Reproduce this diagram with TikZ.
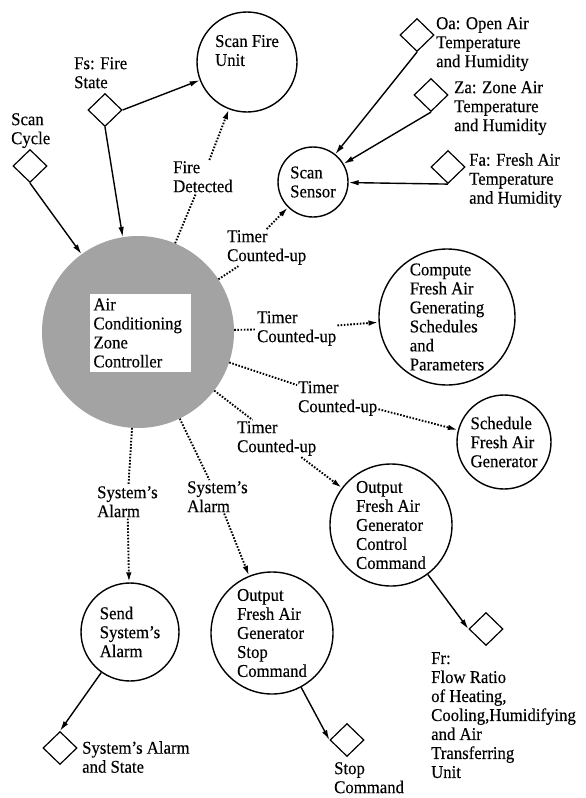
\documentclass[tikz,border=0pt]{standalone}
\usepackage{fontspec}
\setmainfont{Liberation Serif}[FakeStretch=0.93,FakeBold=0.3]
\usetikzlibrary{arrows.meta,shapes.geometric}
\begin{document}
\begin{tikzpicture}[x=1pt,y=-1pt,
  every node/.style={font=\fontsize{18}{19}\selectfont},
  proc/.style={circle,draw,line width=1.4pt,align=left,inner sep=0pt},
  store/.style={diamond,draw,line width=1.2pt,minimum width=34pt,minimum height=33pt,inner sep=0pt},
  lbl/.style={align=left,inner sep=1pt,anchor=north west},
  flow/.style={line width=1.4pt,-{Latex[length=10pt,width=5.5pt]}},
  ctrlseg/.style={line width=1.9pt,dash pattern=on 1.6pt off 1.6pt},
  ctrl/.style={ctrlseg,-{Latex[length=10pt,width=5.5pt]}}
]
\useasboundingbox (0,0) rectangle (586,798);

% central controller
\node[circle,fill=black!36,minimum size=192pt,inner sep=0pt] (main) at (138,332) {};
\node[fill=white,align=left,inner sep=4pt,minimum width=101pt,minimum height=75pt,text width=93pt] (maintxt) at (140,333)
  {Air\\Conditioning\\Zone\\Controller};

% processes
\node[proc,minimum size=100pt] (sfu) at (247,62) {Scan Fire\\Unit\\[4pt]};
\node[proc,minimum size=70pt] (ss) at (313,182) {Scan\\Sensor};
\node[proc,minimum size=136pt] (comp) at (447,317) {Compute\\Fresh Air\\Generating\\Schedules\\and\\Parameters};
\node[proc,minimum size=94pt] (sched) at (504,442) {Schedule\\Fresh Air\\Generator};
\node[proc,minimum size=122pt] (occ) at (391,525) {Output\\Fresh Air\\Generator\\Control\\Command};
\node[proc,minimum size=98pt] (send) at (130,632) {Send\\System's\\Alarm};
\node[proc,minimum size=122pt] (stop) at (272,633) {Output\\Fresh Air\\Generator\\Stop\\Command};

% data stores
\node[store] (fs) at (105,110) {};
\node[store] (sc) at (30,166) {};
\node[store] (oa) at (417,35) {};
\node[store] (za) at (431,95) {};
\node[store] (fa) at (448,167) {};
\node[store] (fr) at (486,629) {};
\node[store] (sas) at (60,748) {};
\node[store] (sd) at (347,740) {};

% store labels
\node[lbl] (fslbl) at (73,56) {Fs: Fire\\State};
\node[lbl] (sclbl) at (10,112) {Scan\\Cycle};
\node[lbl] (oalbl) at (435,16) {Oa: Open Air\\Temperature\\and Humidity};
\node[lbl] (zalbl) at (453,80) {Za: Zone Air\\Temperature\\and Humidity};
\node[lbl] (falbl) at (468,152) {Fa: Fresh Air\\Temperature\\and Humidity};
\node[lbl] (frlbl) at (430,651) {Fr:\\Flow Ratio\\of Heating,\\Cooling,Humidifying\\and Air\\Transferring\\Unit};
\node[lbl] (saslbl) at (81,740) {System's Alarm\\and State};
\node[lbl] (sdlbl) at (333,761) {Stop\\Command};

% control flow labels
\node[lbl] (fd) at (172,160) {Fire\\Detected};
\node[lbl] (t1) at (226,229) {Timer\\Counted-up};
\node[lbl] (t2) at (256,310) {Timer\\Counted-up};
\node[lbl] (t3) at (297,380) {Timer\\Counted-up};
\node[lbl] (t4) at (236,420) {Timer\\Counted-up};
\node[lbl] (sa1) at (96,485) {System's\\Alarm};
\node[lbl] (sa2) at (186,480) {System's\\Alarm};

% data flows
\draw[flow] (sc.south) -- (main);
\draw[flow] (fs.south) -- (main);
\draw[flow] (fs.east) -- (sfu);
\draw[flow] (oa.south) -- (ss);
\draw[flow] (za.south) -- (ss);
\draw[flow] (fa.south) -- (ss);
\draw[flow] (occ) -- (fr.west);
\draw[flow] (send) -- (sas.north);
\draw[flow] (stop) -- (sd.west);

% control flows
\draw[ctrlseg] (main) -- (fd);
\draw[ctrl] (fd) -- (sfu);
\draw[ctrlseg] (main) -- (t1);
\draw[ctrl] (t1.north) -- (ss);
\draw[ctrlseg] (main) -- (t2);
\draw[ctrl] (t2) -- (comp);
\draw[ctrlseg] (main) -- (t3);
\draw[ctrl] (t3) -- (sched);
\draw[ctrlseg] (main) -- (t4);
\draw[ctrl] (t4) -- (occ);
\draw[ctrlseg] (main) -- (sa1);
\draw[ctrl] (sa1) -- (send);
\draw[ctrlseg] (main) -- (sa2);
\draw[ctrl] (sa2) -- (stop);
\end{tikzpicture}
\end{document}
